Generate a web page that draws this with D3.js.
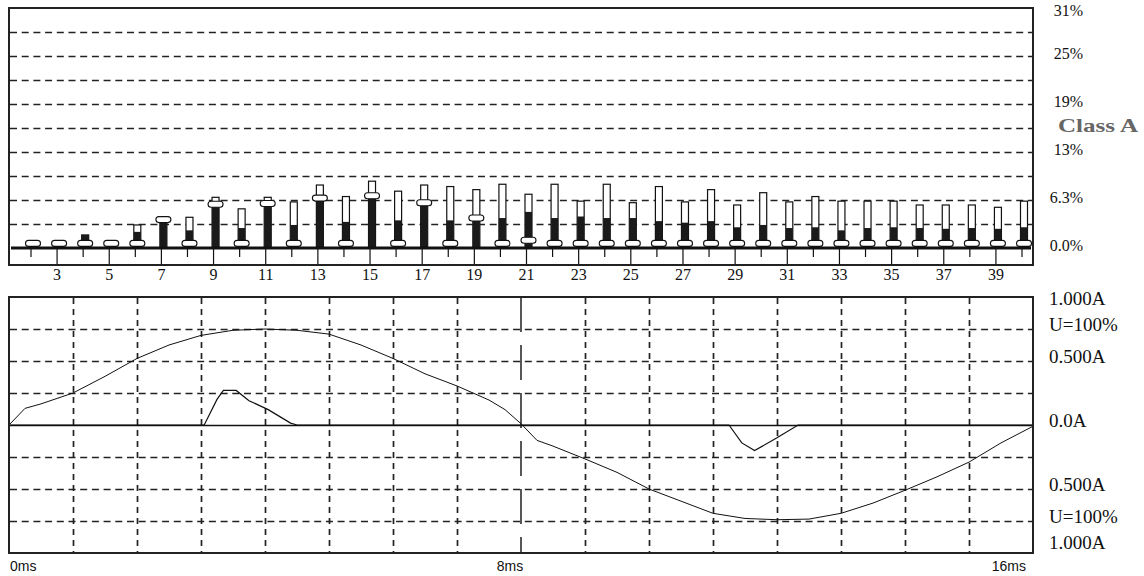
<!DOCTYPE html>
<html>
<head>
<meta charset="utf-8">
<script src="https://cdn.jsdelivr.net/npm/d3@7"></script>
<style>
  body { margin: 0; background: #fff; }
  svg { display: block; }
</style>
</head>
<body>
<div id="chart"></div>
<script>
// Harmonic orders shown in the upper panel
const harmonics = [2, 3, 4, 5, 6, 7, 8, 9, 10, 11, 12, 13, 14, 15, 16, 17, 18, 19, 20,
  21, 22, 23, 24, 25, 26, 27, 28, 29, 30, 31, 32, 33, 34, 35, 36, 37, 38, 39, 40];
// Class A limit per harmonic (%) - hollow bars
const limitPct = [0, 0, 1.7, 0, 3.0, 3.8, 4.0, 6.6, 5.1, 6.6, 6.0, 8.2, 6.7, 8.7, 7.4, 8.2, 8.0, 7.6, 8.3,
  7.0, 8.3, 6.1, 8.3, 5.9, 8.0, 6.0, 7.6, 5.6, 7.2, 6.0, 6.7, 6.1, 6.1, 6.1, 5.6, 5.6, 5.6, 5.3, 6.1];
// measured level (%) - black bars
const levelPct = [0, 0, 1.7, 0, 2.1, 3.7, 2.3, 5.7, 2.6, 5.8, 3.0, 6.5, 3.4, 6.8, 3.6, 5.9, 3.6, 3.9, 3.9,
  4.7, 3.9, 4.1, 3.9, 3.9, 3.5, 3.3, 3.5, 2.7, 3.0, 2.6, 2.7, 2.3, 2.6, 2.7, 2.6, 2.5, 2.6, 2.5, 2.7];
// current harmonic (%) - pill markers
const markerPct = [0.6, 0.6, 0.6, 0.6, 0.6, 3.7, 0.6, 5.7, 0.6, 5.8, 0.6, 6.5, 0.6, 6.8, 0.6, 5.9, 0.6, 3.9, 0.6,
  1.0, 0.6, 0.6, 0.6, 0.6, 0.6, 0.6, 0.6, 0.6, 0.6, 0.6, 0.6, 0.6, 0.6, 0.6, 0.6, 0.6, 0.6, 0.6, 0.6];

const pctTicks = [0, 6.25, 12.5, 18.75, 25, 31.25];
const pctLabels = ["0.0%", "6.3%", "13%", "19%", "25%", "31%"];

// Lower panel: voltage (scaled, U=100% at 0.75) and current waveforms
const voltTime = [0, 0.25, 0.5, 1, 1.5, 2, 2.5, 3, 3.5, 4, 4.5, 5, 5.5, 6, 6.5, 7, 7.5, 7.75, 8,
  8.25, 8.5, 9, 9.5, 10, 10.5, 11, 11.5, 12, 12.5, 13, 13.5, 14, 14.5, 15, 15.5, 16];
const voltValues = [0, 0.13, 0.165, 0.25, 0.38, 0.52, 0.625, 0.70, 0.74, 0.75, 0.74, 0.71, 0.625, 0.52, 0.40, 0.305, 0.195, 0.12, 0.01,
  -0.12, -0.165, -0.265, -0.37, -0.50, -0.595, -0.69, -0.73, -0.74, -0.735, -0.69, -0.61, -0.51, -0.405, -0.29, -0.14, -0.01];
const currTime = [0, 3.05, 3.25, 3.35, 3.55, 3.75, 4.05, 4.4, 4.5, 11.25, 11.45, 11.65, 12.0, 12.33, 16];
const currValues = [0, 0, 0.2, 0.27, 0.27, 0.19, 0.12, 0.015, 0, 0, -0.14, -0.2, -0.1, 0, 0];

const ampTicks = [1, 0.75, 0.5, 0, -0.5, -0.75, -1];
const ampLabels = ["1.000A", "U=100%", "0.500A", "0.0A", "0.500A", "U=100%", "1.000A"];
const timeTicks = [0, 8, 16];
const timeLabels = ["0ms", "8ms", "16ms"];

const width = 1144, height = 576;
const ink = "#111";
const gridInk = "#222";
const serif = "'Liberation Serif', 'Times New Roman', serif";

const svg = d3.select("#chart").append("svg")
  .attr("width", width)
  .attr("height", height)
  .style("background", "#fff");

// ---------- upper panel: harmonics ----------
const up = { left: 9, right: 1033, top: 8, bottom: 265, base: 248 };
const x = d3.scaleLinear().domain([2, 40]).range([33, 1024]);
const y = d3.scaleLinear().domain([0, 31.25]).range([up.base, up.top]);

// dashed grid every 3.125%
svg.append("g")
  .selectAll("line")
  .data(d3.range(1, 10).map(i => i * 3.125))
  .join("line")
  .attr("x1", up.left + 1).attr("x2", up.right)
  .attr("y1", d => Math.round(y(d)) + 0.5).attr("y2", d => Math.round(y(d)) + 0.5)
  .attr("stroke", gridInk).attr("stroke-width", 1.7)
  .attr("stroke-dasharray", "7,4.7");

const data = harmonics.map((h, i) => ({ h, limit: limitPct[i], level: levelPct[i], marker: markerPct[i] }));
const barW = 7;

const bars = svg.append("g").selectAll("g").data(data).join("g");

bars.filter(d => d.limit > 0).append("rect")
  .attr("x", d => x(d.h) - barW / 2)
  .attr("y", d => y(d.limit))
  .attr("width", barW)
  .attr("height", d => y(0) - y(d.limit))
  .attr("fill", "#fff")
  .attr("stroke", ink).attr("stroke-width", 1.2);

bars.filter(d => d.level > 0).append("rect")
  .attr("x", d => x(d.h) - barW / 2)
  .attr("y", d => y(d.level))
  .attr("width", barW)
  .attr("height", d => y(0) - y(d.level))
  .attr("fill", "#1a1a1a");

// thick base line
svg.append("line")
  .attr("x1", up.left + 2).attr("x2", up.right - 2)
  .attr("y1", up.base).attr("y2", up.base)
  .attr("stroke", ink).attr("stroke-width", 3);

// pill markers
bars.append("rect")
  .attr("x", d => x(d.h) - 7.5)
  .attr("y", d => y(d.marker) - 3)
  .attr("width", 15)
  .attr("height", 6)
  .attr("rx", 3)
  .attr("fill", "#fff")
  .attr("stroke", ink).attr("stroke-width", 1.1);

// ticks under the base
svg.append("g").selectAll("line")
  .data(harmonics)
  .join("line")
  .attr("x1", d => x(d) - 2).attr("x2", d => x(d) - 2)
  .attr("y1", up.base)
  .attr("y2", d => d % 2 ? up.bottom : up.base + 9)
  .attr("stroke", ink).attr("stroke-width", 1.2);

svg.append("g").selectAll("text")
  .data(harmonics.filter(h => h % 2))
  .join("text")
  .attr("x", d => x(d) - 2)
  .attr("y", 280)
  .attr("text-anchor", "middle")
  .style("font-family", serif)
  .style("font-size", "16px")
  .attr("fill", ink)
  .text(d => d);

svg.append("rect")
  .attr("x", up.left).attr("y", up.top)
  .attr("width", up.right - up.left).attr("height", up.bottom - up.top)
  .attr("fill", "none")
  .attr("stroke", "#222").attr("stroke-width", 2);

// right-hand percent labels
svg.append("g").selectAll("text")
  .data(pctTicks)
  .join("text")
  .attr("x", 1083)
  .attr("y", d => Math.max(y(d) - 3, 10))
  .attr("dy", "0.35em")
  .attr("text-anchor", "end")
  .style("font-family", serif)
  .style("font-size", "16px")
  .attr("fill", ink)
  .text((d, i) => pctLabels[i]);

svg.append("text")
  .attr("x", 1058)
  .attr("y", 125)
  .attr("dy", "0.35em")
  .attr("textLength", 80)
  .attr("lengthAdjust", "spacingAndGlyphs")
  .style("font-family", serif)
  .style("font-size", "19px")
  .style("font-weight", "bold")
  .attr("fill", "#666")
  .text("Class A");

// ---------- lower panel: waveforms ----------
const lo = { left: 9, right: 1033, top: 297, bottom: 553 };
const t = d3.scaleLinear().domain([0, 16]).range([lo.left, lo.right]);
const a = d3.scaleLinear().domain([-1, 1]).range([lo.bottom, lo.top]);

svg.append("g").selectAll("line")
  .data([0.75, 0.5, 0.25, -0.25, -0.5, -0.75])
  .join("line")
  .attr("x1", lo.left + 1).attr("x2", lo.right)
  .attr("y1", d => Math.round(a(d)) + 0.5).attr("y2", d => Math.round(a(d)) + 0.5)
  .attr("stroke", gridInk).attr("stroke-width", 1.7)
  .attr("stroke-dasharray", "7,4.7");

svg.append("g").selectAll("line")
  .data(d3.range(1, 16).filter(v => v !== 8))
  .join("line")
  .attr("x1", d => Math.round(t(d)) + 0.5).attr("x2", d => Math.round(t(d)) + 0.5)
  .attr("y1", lo.top + 1).attr("y2", lo.bottom)
  .attr("stroke", gridInk).attr("stroke-width", 1.7)
  .attr("stroke-dasharray", "6,5");

// half-period marker
svg.append("line")
  .attr("x1", t(8)).attr("x2", t(8))
  .attr("y1", lo.top).attr("y2", lo.bottom)
  .attr("stroke", ink).attr("stroke-width", 1.4)
  .attr("stroke-dasharray", "35,13");

// zero axis
svg.append("line")
  .attr("x1", lo.left).attr("x2", lo.right)
  .attr("y1", Math.round(a(0)) + 0.5).attr("y2", Math.round(a(0)) + 0.5)
  .attr("stroke", ink).attr("stroke-width", 1.3);

const line = d3.line().x(d => t(d[0])).y(d => a(d[1]));

svg.append("path")
  .datum(voltTime.map((v, i) => [v, voltValues[i]]))
  .attr("d", line)
  .attr("fill", "none")
  .attr("stroke", ink).attr("stroke-width", 1);

svg.append("path")
  .datum(currTime.map((v, i) => [v, currValues[i]]))
  .attr("d", line)
  .attr("fill", "none")
  .attr("stroke", ink).attr("stroke-width", 1.2);

svg.append("rect")
  .attr("x", lo.left).attr("y", lo.top)
  .attr("width", lo.right - lo.left).attr("height", lo.bottom - lo.top)
  .attr("fill", "none")
  .attr("stroke", "#222").attr("stroke-width", 2);

svg.append("g").selectAll("text")
  .data(ampTicks)
  .join("text")
  .attr("x", 1049)
  .attr("y", d => Math.min(Math.max(a(d) - 5, 298), 542))
  .attr("dy", "0.35em")
  .style("font-family", serif)
  .style("font-size", "19px")
  .attr("fill", ink)
  .text((d, i) => ampLabels[i]);

svg.append("g").selectAll("text")
  .data(timeTicks)
  .join("text")
  .attr("x", d => d === 0 ? t(d) + 1 : d === 16 ? t(d) - 7 : t(d) - 11)
  .attr("y", 571)
  .attr("text-anchor", (d, i) => i === 0 ? "start" : i === 1 ? "middle" : "end")
  .style("font-family", "'Liberation Sans', Arial, sans-serif")
  .style("font-size", "14px")
  .attr("fill", ink)
  .text((d, i) => timeLabels[i]);
</script>
</body>
</html>
